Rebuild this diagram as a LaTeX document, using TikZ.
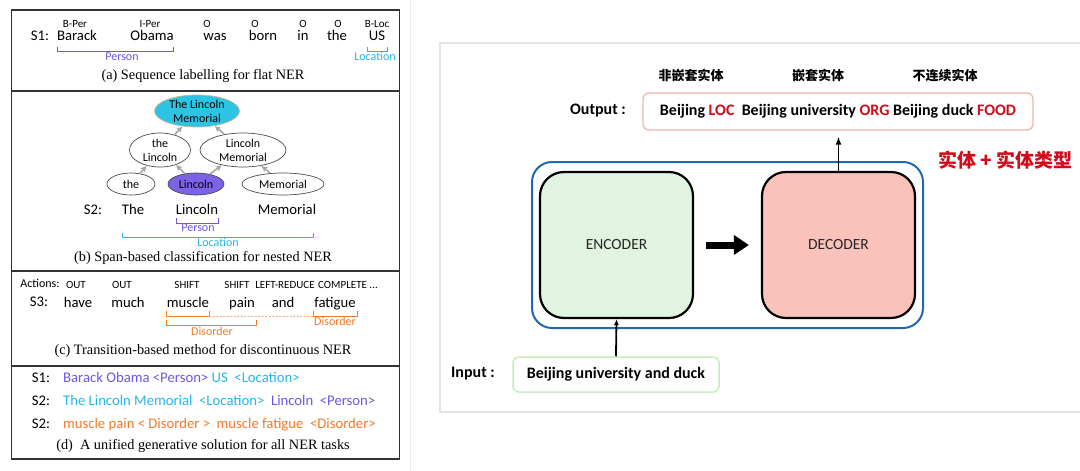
\documentclass[tikz,border=0pt]{standalone}
\usepackage{fontspec}
\setmainfont{Carlito}
\newfontfamily\serifcap{Liberation Serif}
\newfontfamily\cjk{Noto Sans CJK SC}
\usetikzlibrary{shapes.geometric,arrows.meta}
\newcommand\fsz[1]{\fontsize{#1}{#1}\selectfont}
\definecolor{cpurple}{RGB}{108,88,226}
\definecolor{ccyan}{RGB}{38,182,236}
\definecolor{corange}{RGB}{242,122,40}
\definecolor{cfill}{RGB}{43,196,228}
\definecolor{pfill}{RGB}{124,99,230}
\definecolor{cred}{RGB}{208,12,26}
\definecolor{cblue}{RGB}{34,104,176}
\definecolor{encfill}{RGB}{225,243,225}
\definecolor{decfill}{RGB}{251,193,187}
\definecolor{outbord}{RGB}{242,182,174}
\definecolor{inbord}{RGB}{201,235,191}
\definecolor{panelgray}{RGB}{228,228,228}
\tikzset{
  txt/.style={inner sep=0pt, anchor=mid, font=\fsz{14.7}},
  tag/.style={inner sep=0pt, anchor=mid, font=\fsz{11}},
  sm/.style={inner sep=0pt, anchor=mid, font=\fsz{12}},
  capt/.style={inner sep=0pt, anchor=mid, font=\serifcap\fsz{14.3}},
  brk/.style={line width=1pt},
  frame/.style={draw=black!80, line width=1.3pt},
  ell/.style={ellipse, draw=black!70, line width=0.7pt, inner sep=0pt, align=center, font=\fontsize{12}{14}\selectfont},
  garrow/.style={-{Stealth[length=6pt,width=6pt]}, draw=black!35, line width=1.6pt, shorten >=0.5pt, shorten <=0.5pt},
  bold/.style={inner sep=0pt, anchor=mid, font=\bfseries\fsz{16}},
  zh/.style={inner sep=0pt, anchor=mid, font=\cjk\bfseries\fsz{13}},
  block/.style={draw=black, line width=2.2pt, rounded corners=24pt, minimum width=153pt, minimum height=146pt, font=\fsz{15.5}, text=black!85},
}
\begin{document}
\begin{tikzpicture}[x=1pt,y=-1pt]
\useasboundingbox[fill=white] (0,0) rectangle (1080,471);

% ---------------- left panel frame ----------------
\draw[frame] (11.5,10) rectangle (399.5,459);
\draw[frame] (11.5,91) -- (399.5,91);
\draw[frame] (11.5,271) -- (399.5,271);
\draw[frame] (11.5,366) -- (399.5,366);
\draw[draw=black!8, line width=1pt] (410.5,0) -- (410.5,471);

% ---------------- (a) ----------------
\node[tag] (ta1) at (75,25) {B-Per};
\node[tag] (ta2) at (150,25) {I-Per};
\node[tag] (ta3) at (207,25) {O};
\node[tag] (ta4) at (255,25) {O};
\node[tag] (ta5) at (303,25) {O};
\node[tag] (ta6) at (338,25) {O};
\node[tag] (ta7) at (377,25) {B-Loc};
\node[txt] (s1) at (40,38) {S1:};
\node[txt] (wa1) at (77,38) {Barack};
\node[txt] (wa2) at (152,38) {Obama};
\node[txt] (wa3) at (215,38) {was};
\node[txt] (wa4) at (263,38) {born};
\node[txt] (wa5) at (303,38) {in};
\node[txt] (wa6) at (337,38) {the};
\node[txt] (wa7) at (377,38) {US};
\draw[brk, cpurple] (57,47) -- (57,51) -- (173,51) -- (173,47);
\draw[brk, ccyan] (367,47) -- (367,51) -- (387,51) -- (387,47);
\node[sm, text=cpurple] (pa) at (122,58) {Person};
\node[sm, text=ccyan] (la) at (375,58) {Location};
\node[capt] (capa) at (203,77) {(a) Sequence labelling for flat NER};

% ---------------- (b) ----------------
\node[ell, fill=cfill, draw=brown!60, minimum width=85pt, minimum height=32pt] (tlm) at (197,111) {The Lincoln\\Memorial};
\node[ell, minimum width=61pt, minimum height=34pt] (thel) at (160,150) {the\\Lincoln};
\node[ell, minimum width=86pt, minimum height=34pt] (lm) at (243,150) {Lincoln\\Memorial};
\node[ell, minimum width=48pt, minimum height=22pt] (eth) at (131,184) {the};
\node[ell, fill=pfill, minimum width=56pt, minimum height=22pt] (eli) at (196,184) {Lincoln};
\node[ell, minimum width=82pt, minimum height=22pt] (eme) at (283,184) {Memorial};
\draw[garrow] (eth) -- (thel);
\draw[garrow] (eli) -- (thel);
\draw[garrow] (eli) -- (lm);
\draw[garrow] (eme) -- (lm);
\draw[garrow] (thel) -- (tlm);
\draw[garrow] (lm) -- (tlm);
\node[txt] (s2) at (93,212) {S2:};
\node[txt] (wb1) at (133,212) {The};
\node[txt] (wb2) at (197,212) {Lincoln};
\node[txt] (wb3) at (287,212) {Memorial};
\draw[brk, cpurple] (176,218) -- (176,223) -- (218,223) -- (218,218);
\node[sm, text=cpurple] (pb) at (198,229) {Person};
\draw[brk, ccyan] (122,233) -- (122,237) -- (313,237) -- (313,233);
\node[sm, text=ccyan] (lb) at (218,244) {Location};
\node[capt] (capb) at (203,259) {(b) Span-based classification for nested NER};

% ---------------- (c) ----------------
\node[sm] (act) at (40,285) {Actions:};
\node[tag] (tc1) at (76,286) {OUT};
\node[tag] (tc2) at (122,286) {OUT};
\node[tag] (tc3) at (187,286) {SHIFT};
\node[tag] (tc4) at (237,286) {SHIFT};
\node[tag] (tc5) at (285,286) {LEFT-REDUCE};
\node[tag] (tc6) at (348,286) {COMPLETE ...};
\node[txt] (s3) at (39,304) {S3:};
\node[txt] (wc1) at (78,305) {have};
\node[txt] (wc2) at (128,305) {much};
\node[txt] (wc3) at (188,305) {muscle};
\node[txt] (wc4) at (242,305) {pain};
\node[txt] (wc5) at (283,305) {and};
\node[txt] (wc6) at (335,305) {fatigue};
\draw[brk, corange] (166,311) -- (166,316) -- (209,316) -- (209,311);
\draw[line width=0.8pt, corange!60, dash pattern=on 2pt off 1.5pt] (209,316) -- (313,316);
\draw[brk, corange] (313,311) -- (313,316) -- (357,316) -- (357,311);
\draw[brk, corange] (166,320) -- (166,325) -- (256,325) -- (256,320);
\node[sm, text=corange] (dc1) at (335,323) {Disorder};
\node[sm, text=corange] (dc2) at (212,333) {Disorder};
\node[capt] (capc) at (203,352) {(c) Transition-based method for discontinuous NER};

% ---------------- (d) ----------------
\node[txt] (d1) at (41,380) {S1:};
\node[txt, anchor=mid west] (d1t) at (63,380) {\color{cpurple}Barack Obama <Person> \color{ccyan}US\ \ <Location>};
\node[txt] (d2) at (41,403) {S2:};
\node[txt, anchor=mid west] (d2t) at (63,403) {\color{ccyan}The Lincoln Memorial\ \ <Location>\ \ \color{cpurple}Lincoln\ \ <Person>};
\node[txt] (d3) at (41,426) {S2:};
\node[txt, anchor=mid west, text=corange] (d3t) at (63,426) {muscle pain < Disorder >\ \ muscle fatigue\ \ <Disorder>};
\node[capt] (capd) at (203,447) {(d)\ \ A unified generative solution for all NER tasks};

% ---------------- right panel ----------------
\draw[draw=panelgray, line width=1.2pt] (1090,43) -- (440,43) -- (440,412) -- (1090,412);
\node[zh] (z1) at (691,78) {非嵌套实体};
\node[zh] (z2) at (818,78) {嵌套实体};
\node[zh] (z3) at (945,78) {不连续实体};
\node[bold] (outl) at (598,112) {Output :};
\node[draw=outbord, line width=1.3pt, rounded corners=6pt, minimum width=390pt, minimum height=37pt, inner sep=0pt, font=\bfseries\fsz{16}] (outb) at (838,111.5)
  {Beijing \textcolor{cred}{LOC}\ \ Beijing university \textcolor{cred}{ORG} Beijing duck \textcolor{cred}{FOOD}};
\node[inner sep=0pt, anchor=mid west, text=cred, font=\cjk\bfseries\fsz{19}] (tt) at (938,165) {实体 + 实体类型};

\node[draw=cblue, line width=2pt, rounded corners=20pt, minimum width=391pt, minimum height=166pt, inner sep=0pt] (sys) at (727.5,245) {};
\node[block, fill=encfill] (enc) at (616.5,245) {ENCODER};
\node[block, fill=decfill] (dec) at (838.5,245) {DECODER};
\draw[line width=7pt, -{Triangle[length=15pt,width=19pt]}] ([xshift=12pt]enc.east) -- ([xshift=-12pt]dec.west);
\draw[line width=1.8pt, -{Latex[length=8pt,width=6pt]}, shorten >=6pt] (dec.north) -- (outb.south -| dec.north);

\node[bold] (inl) at (473,375) {Input :};
\node[draw=inbord, line width=1.5pt, rounded corners=6pt, minimum width=206pt, minimum height=35pt, inner sep=0pt, font=\bfseries\fsz{16}] (inp) at (616,374.5) {Beijing university and duck};
\draw[line width=1.8pt, -{Latex[length=6pt,width=5pt]}] (inp.north) -- (enc.south);
\end{tikzpicture}
\end{document}
